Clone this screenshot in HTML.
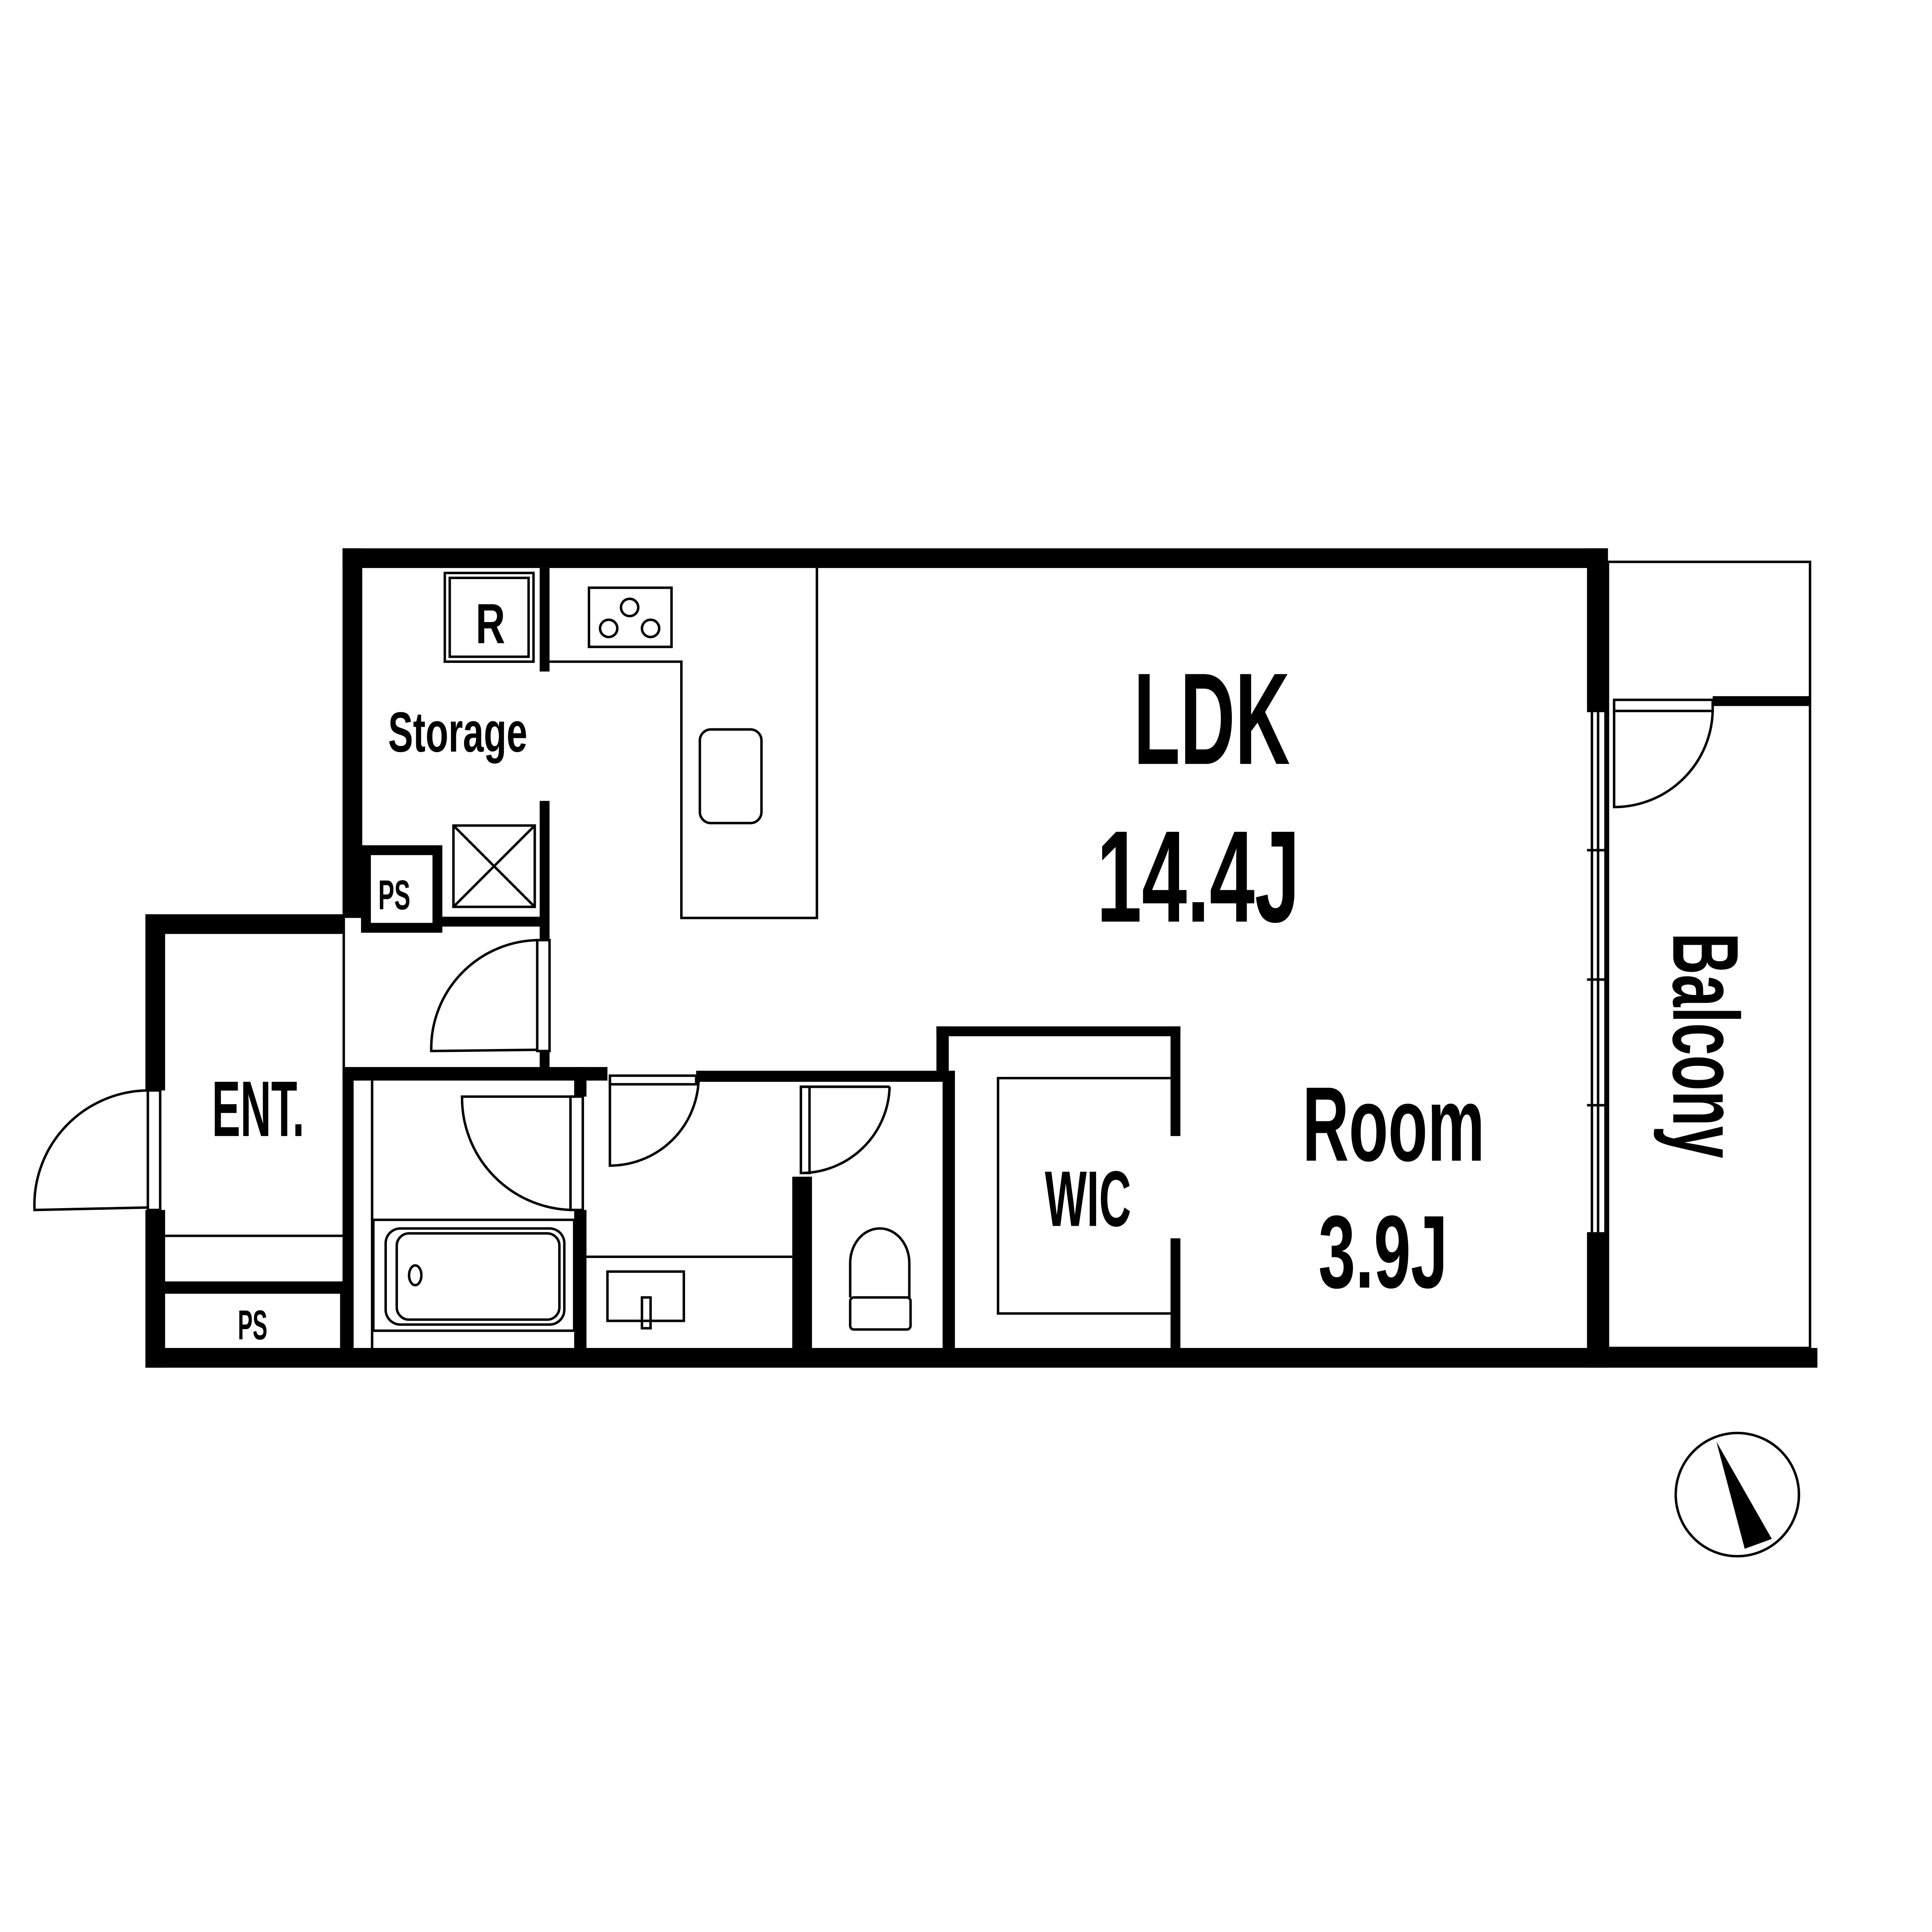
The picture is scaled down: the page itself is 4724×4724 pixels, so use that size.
<!DOCTYPE html>
<html><head><meta charset="utf-8"><style>html,body{margin:0;padding:0;background:#fff}svg{display:block}</style></head>
<body>
<svg width="4724" height="4724" viewBox="0 0 1568 1568" xmlns="http://www.w3.org/2000/svg">
<rect width="1568" height="1568" fill="#fff"/>
<g fill="#000">
<!-- thick walls -->
<rect x="278" y="445" width="1027" height="16"/>
<rect x="278" y="445" width="16" height="300"/>
<rect x="1288" y="445" width="17" height="133"/>
<rect x="1288" y="1000" width="17" height="110"/>
<rect x="118" y="1094" width="1357" height="16"/>
<rect x="118" y="742" width="16" height="143"/>
<rect x="118" y="982" width="16" height="128"/>
<rect x="118" y="742" width="162" height="16"/>
<rect x="438" y="461" width="8" height="84"/>
<rect x="438" y="650" width="8" height="113"/>
<rect x="438" y="853" width="8" height="17"/>
<rect x="358" y="744" width="80" height="8"/>
<rect x="278" y="866" width="215" height="11"/>
<rect x="565" y="869" width="210" height="9"/>
<rect x="278" y="866" width="9" height="228"/>
<rect x="466" y="982" width="10" height="112"/>
<rect x="466" y="866" width="10" height="24"/>
<rect x="643" y="955" width="16" height="139"/>
<rect x="765" y="869" width="10" height="225"/>
<rect x="760" y="833" width="198" height="8"/>
<rect x="760" y="833" width="10" height="40"/>
<rect x="950" y="833" width="8" height="89"/>
<rect x="950" y="1005" width="8" height="89"/>
<rect x="1390" y="565" width="79" height="8"/>
<rect x="134" y="1040" width="146" height="10"/>
<rect x="276" y="1040" width="10" height="54"/>
</g>
<rect x="297" y="690" width="58" height="63" fill="none" stroke="#000" stroke-width="8"/>
<g fill="none" stroke="#000" stroke-width="2">
<!-- balcony -->
<rect x="1305" y="456" width="164" height="638"/>
<!-- windows -->
<line x1="1292" y1="578" x2="1292" y2="1000"/><line x1="1297" y1="578" x2="1297" y2="1000"/><line x1="1303" y1="578" x2="1303" y2="1000"/>
<line x1="1288" y1="690" x2="1305" y2="690"/><line x1="1288" y1="795" x2="1305" y2="795"/><line x1="1288" y1="897" x2="1305" y2="897"/>
<!-- balcony door -->
<rect x="1310" y="568" width="80" height="9"/>
<path d="M1390 577 A80 80 0 0 1 1310 655 L1310 577"/>
<!-- entry door -->
<rect x="120" y="885" width="10" height="97"/>
<path d="M120 885 A93 93 0 0 0 28 982 L120 980"/>
<!-- storage door -->
<rect x="436" y="763" width="10" height="90"/>
<path d="M436 763 A88 88 0 0 0 350 853 L436 852"/>
<!-- bath door -->
<rect x="463" y="890" width="10" height="92"/>
<path d="M466 890 L375 890 A91 91 0 0 0 466 982"/>
<!-- wash door -->
<rect x="495" y="873" width="70" height="7"/>
<path d="M567 876 A72 72 0 0 1 495 946 L495 876"/>
<!-- toilet door -->
<rect x="650" y="882" width="7" height="70"/>
<path d="M722 882 L650 882 M722 882 A72 72 0 0 1 652 952"/>
<line x1="650" y1="882" x2="722" y2="882"/>
<!-- kitchen -->
<polyline points="446,537 553,537 553,745 663,745 663,461"/>
<rect x="478" y="477" width="67" height="48"/>
<circle cx="511" cy="493" r="7"/><circle cx="494" cy="510" r="7"/><circle cx="528" cy="510" r="7"/>
<rect x="568" y="592" width="50" height="76" rx="9"/>
<rect x="361" y="465" width="72" height="72"/><rect x="365" y="469" width="64" height="64"/>
<rect x="368" y="670" width="66" height="66"/><line x1="368" y1="670" x2="434" y2="736"/><line x1="434" y1="670" x2="368" y2="736"/>
<!-- ent -->
<line x1="134" y1="1003" x2="278" y2="1003"/><line x1="279" y1="758" x2="279" y2="866"/>
<!-- bath -->
<line x1="302" y1="877" x2="302" y2="1094"/>
<rect x="303" y="990" width="163" height="90"/>
<rect x="313" y="997" width="145" height="78" rx="12"/>
<rect x="322" y="1001" width="132" height="70" rx="10"/>
<ellipse cx="337" cy="1035" rx="5" ry="8"/>
<!-- wash -->
<line x1="476" y1="1020" x2="643" y2="1020"/>
<rect x="493" y="1032" width="62" height="40"/>
<rect x="521" y="1053" width="7" height="25"/>
<!-- toilet -->
<path d="M690 1053 L690 1025 A24 28 0 0 1 738 1025 L738 1053"/>
<rect x="690" y="1053" width="49" height="26" rx="3"/>
<!-- WIC -->
<polyline points="950,875 810,875 810,1066 950,1066"/>
<!-- compass -->
<circle cx="1410" cy="1213" r="50"/>
</g>
<polygon points="1393,1170 1438,1249 1416,1257" fill="#000"/>
<g font-family="Liberation Sans, sans-serif" font-weight="bold" fill="#000">
<text x="920" y="620" font-size="106" textLength="127" lengthAdjust="spacingAndGlyphs">LDK</text>
<text x="890" y="748" font-size="106" textLength="165" lengthAdjust="spacingAndGlyphs">14.4J</text>
<text x="1057" y="942" font-size="86" textLength="148" lengthAdjust="spacingAndGlyphs">Room</text>
<text x="1070" y="1045" font-size="84" textLength="105" lengthAdjust="spacingAndGlyphs">3.9J</text>
<text x="315" y="610" font-size="46" textLength="113" lengthAdjust="spacingAndGlyphs">Storage</text>
<text x="848" y="995" font-size="64" textLength="70" lengthAdjust="spacingAndGlyphs">WIC</text>
<text x="172" y="922" font-size="64" textLength="75" lengthAdjust="spacingAndGlyphs">ENT.</text>
<text x="307" y="738" font-size="34" textLength="26" lengthAdjust="spacingAndGlyphs">PS</text>
<text x="193" y="1087" font-size="34" textLength="24" lengthAdjust="spacingAndGlyphs">PS</text>
<text x="386" y="522" font-size="46" textLength="24" lengthAdjust="spacingAndGlyphs">R</text>
<text transform="translate(1358,757) rotate(90)" font-size="76" textLength="183" lengthAdjust="spacingAndGlyphs">Balcony</text>
</g>
</svg>
</body></html>
